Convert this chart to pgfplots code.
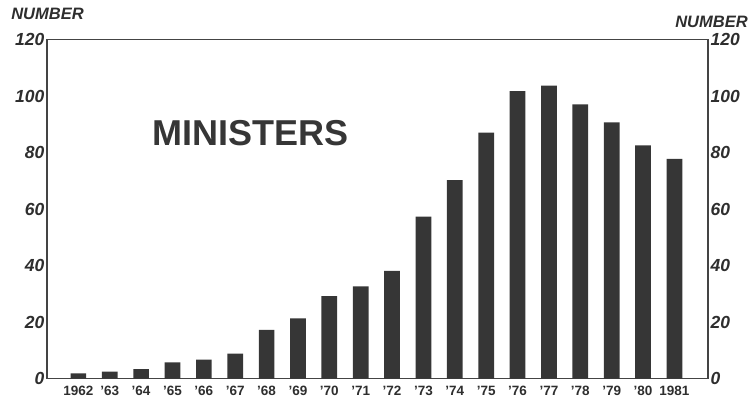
\documentclass[border=0pt]{standalone}
\usepackage{pgfplots}
\pgfplotsset{compat=1.18}
\usepackage{fontspec}
\setmainfont{Liberation Sans}
\definecolor{barc}{HTML}{363636}
\definecolor{axc}{HTML}{444444}
\definecolor{txt}{HTML}{2E2E2E}
\begin{document}
\begin{tikzpicture}[x=1pt,y=1pt]
\path[use as bounding box] (0,0) rectangle (750,402);
\begin{axis}[
 at={(47pt,23.5pt)}, anchor=south west,
 scale only axis, width=661pt, height=339pt,
 xmin=-1, xmax=20.07, ymin=0, ymax=120,
 xtick={0,...,19},
 xticklabels={1962,'63,'64,'65,'66,'67,'68,'69,'70,'71,'72,'73,'74,'75,'76,'77,'78,'79,'80,1981},
 ytick={0,20,...,120},
 tick style={draw=none},
 axis line style={axc, line width=1.4pt},
 xticklabel style={font=\fontsize{13.5}{13.5}\selectfont\bfseries, text=txt},
 yticklabel style={font=\fontsize{17.5}{17.5}\selectfont\bfseries\itshape, text=txt, inner sep=2.5pt},
 /pgf/number format/assume math mode=true,
 ybar, bar width=15.7pt,
]
\addplot[fill=barc, draw=none] coordinates {
(0,1.8) (1,2.4) (2,3.3) (3,5.7) (4,6.7) (5,8.8) (6,17.2) (7,21.3) (8,29.2) (9,32.6)
(10,38.1) (11,57.3) (12,70.2) (13,87.0) (14,101.7) (15,103.7) (16,97.0) (17,90.7) (18,82.5) (19,77.7)};
\node[font=\fontsize{36}{36}\selectfont\bfseries, text=barc] at (axis cs:5.5,87) {MINISTERS};
\end{axis}
\begin{axis}[
 at={(47pt,23.5pt)}, anchor=south west,
 scale only axis, width=661pt, height=339pt,
 xmin=-1, xmax=20.07, ymin=0, ymax=120,
 xtick=\empty, ytick={0,20,...,120},
 yticklabel pos=right,
 tick style={draw=none},
 axis line style={draw=none},
 yticklabel style={font=\fontsize{17.5}{17.5}\selectfont\bfseries\itshape, text=txt, inner sep=2.5pt},
 /pgf/number format/assume math mode=true,
]
\end{axis}
\node[font=\fontsize{16.5}{16.5}\selectfont\bfseries\itshape, text=txt] at (47.5,388.5) {NUMBER};
\node[font=\fontsize{16.5}{16.5}\selectfont\bfseries\itshape, text=txt] at (711.5,380.5) {NUMBER};
\end{tikzpicture}
\end{document}
